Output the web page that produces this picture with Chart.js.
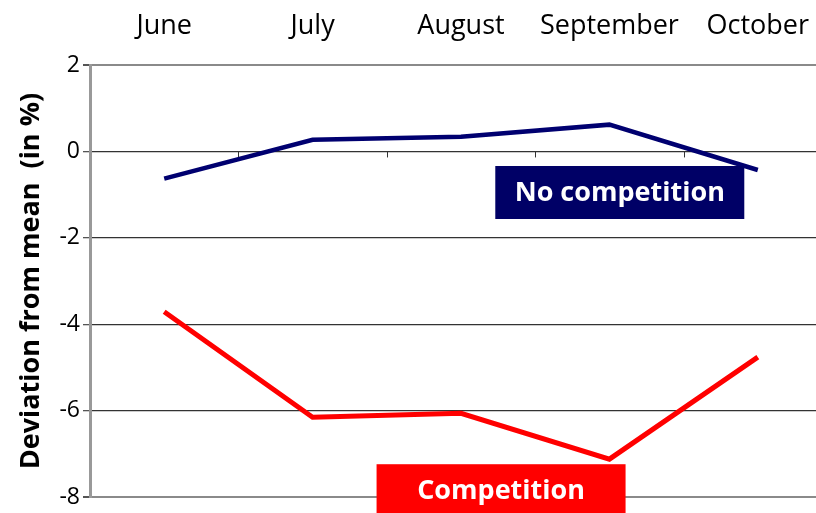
<!DOCTYPE html>
<html>
<head>
<meta charset="utf-8">
<script src="https://cdn.jsdelivr.net/npm/chart.js@4"></script>
<style>
  html, body { margin: 0; padding: 0; background: #fff; overflow: hidden; }
  #wrap { position: relative; width: 832px; height: 514px; }
</style>
</head>
<body>
<div id="wrap"><canvas id="chart"></canvas></div>
<script>
// data
var months = ['June', 'July', 'August', 'September', 'October'];
var noCompetition = [-0.63, 0.27, 0.34, 0.62, -0.43];
var competition = [-3.71, -6.15, -6.06, -7.12, -4.76];
var yTicks = [2, 0, -2, -4, -6, -8];

// text boxes, placed in data units (category index, value)
var boxLabels = ['No competition', 'Competition'];
var boxX = [3.07, 2.27];
var boxY = [-0.95, -7.85];
var boxColors = ['#000066', '#ff0000'];

var FONT = "'Open Sans', 'Liberation Sans', sans-serif";

// little tick marks on the zero line between the months + the labelled boxes
var extras = {
  id: 'extras',
  beforeDatasetsDraw: function(chart) {
    var ctx = chart.ctx, x = chart.scales.x, y = chart.scales.y;
    var y0 = y.getPixelForValue(0);
    ctx.save();
    ctx.strokeStyle = '#333';
    ctx.lineWidth = 1;
    for (var i = 1; i < months.length; i++) {
      var px = Math.round((x.getPixelForValue(i - 1) + x.getPixelForValue(i)) / 2) + 0.5;
      ctx.beginPath();
      ctx.moveTo(px, y0);
      ctx.lineTo(px, y0 + 6);
      ctx.stroke();
    }
    ctx.restore();
  },
  afterDatasetsDraw: function(chart) {
    var ctx = chart.ctx, x = chart.scales.x, y = chart.scales.y;
    var w = 249, h = 53;
    ctx.save();
    for (var i = 0; i < boxLabels.length; i++) {
      var cx = x.getPixelForValue(boxX[i]);
      var cy = y.getPixelForValue(boxY[i]);
      ctx.fillStyle = boxColors[i];
      ctx.fillRect(cx - w / 2, cy - h / 2, w, h);
      ctx.fillStyle = '#fff';
      ctx.font = 'bold 27px ' + FONT;
      ctx.textAlign = 'center';
      ctx.textBaseline = 'middle';
      ctx.fillText(boxLabels[i], cx, cy + 1);
    }
    ctx.restore();
  }
};

var ctx = document.getElementById('chart').getContext('2d');
var chart = new Chart(ctx, {
  type: 'line',
  data: {
    labels: months,
    datasets: [{
      label: 'No competition',
      data: noCompetition,
      borderColor: '#000070',
      borderWidth: 4.5,
      pointRadius: 0,
      tension: 0
    }, {
      label: 'Competition',
      data: competition,
      borderColor: '#ff0000',
      borderWidth: 5,
      pointRadius: 0,
      tension: 0
    }]
  },
  options: {
    responsive: true,
    maintainAspectRatio: false,
    animation: false,
    layout: { padding: 0 },
    plugins: {
      legend: { display: false },
      tooltip: { enabled: false }
    },
    scales: {
      x: {
        position: 'top',
        offset: true,
        grid: { display: false, drawTicks: false },
        border: { display: false },
        ticks: {
          color: '#000',
          font: { family: FONT, size: 27 },
          padding: 22,
          maxRotation: 0
        },
        afterFit: function(s) { s.height = 65; }
      },
      y: {
        min: -8,
        max: 2,
        afterBuildTicks: function(s) {
          s.ticks = yTicks.map(function(v) { return { value: v }; });
        },
        grid: {
          color: function(c) {
            var v = c.tick.value;
            return (v === 2 || v === -8) ? '#8a8a8a' : '#333';
          },
          lineWidth: function(c) {
            var v = c.tick.value;
            return (v === 2 || v === -8) ? 2 : 1.3;
          },
          tickColor: '#555',
          tickLength: 7
        },
        border: { color: '#999', width: 3 },
        ticks: {
          color: '#000',
          font: { family: FONT, size: 23 },
          padding: 3
        },
        title: {
          display: true,
          text: 'Deviation from mean  (in %)',
          color: '#000',
          font: { family: FONT, size: 27, weight: 'bold' },
          padding: { top: 15, bottom: 0 }
        },
        afterFit: function(s) { s.width = 90; }
      }
    }
  },
  plugins: [extras]
});
</script>
</body>
</html>
